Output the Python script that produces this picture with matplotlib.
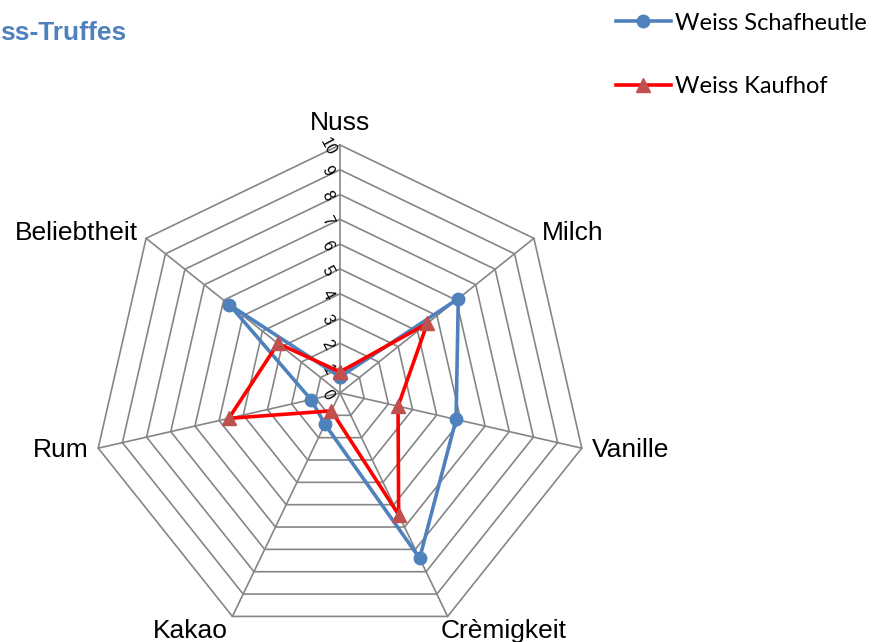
import matplotlib.pyplot as plt
import numpy as np

categories = ["Nuss", "Milch", "Vanille", "Crèmigkeit", "Kakao", "Rum", "Beliebtheit"]
schafheutle = [0.65, 6.1, 4.8, 7.4, 1.4, 1.2, 5.7]
kaufhof = [0.85, 4.5, 2.4, 5.45, 0.8, 4.6, 3.2]
levels = list(range(0, 11))

BLUE = "#4F81BD"
RED = "#FF0000"
RED_MARK = "#C0504D"
GRID = "#868686"

fig = plt.figure(figsize=(8.82, 6.42), dpi=100)
ax = fig.add_axes([0.1043, 0.0016, 0.5624, 0.7726], projection="polar")
ax.set_theta_zero_location("N")
ax.set_theta_direction(-1)
ax.set_ylim(0, 10)
ax.axis("off")

n = len(categories)
theta = np.linspace(0, 2 * np.pi, n, endpoint=False)
closed = np.append(theta, theta[0])

# heptagon grid and spokes
for lv in levels[1:]:
    ax.plot(closed, [lv] * (n + 1), color=GRID, lw=1.2, zorder=1, clip_on=False)
for t in theta:
    ax.plot([t, t], [0, 10], color=GRID, lw=1.2, zorder=1, clip_on=False)

# radial tick labels along the first spoke
for lv in levels:
    ax.annotate(str(lv), xy=(0, lv), xytext=(-9, -1), textcoords="offset points",
                ha="center", va="center", rotation=-62, fontsize=11.5,
                family="Liberation Sans", zorder=2)

ax.plot(closed, schafheutle + schafheutle[:1], color=BLUE, lw=2.6, marker="o",
        ms=9, mfc=BLUE, mec=BLUE, label="Weiss Schafheutle", zorder=3, clip_on=False)
ax.plot(closed, kaufhof + kaufhof[:1], color=RED, lw=2.6, marker="^",
        ms=9.5, mfc=RED_MARK, mec=RED_MARK, label="Weiss Kaufhof", zorder=4, clip_on=False)

# category labels: (offset in points, ha, va)
label_pos = [
    ((0, 7), "center", "bottom"),
    ((6, 4), "left", "center"),
    ((7, -1), "left", "center"),
    ((-5, -2), "left", "top"),
    ((-3, -2), "right", "top"),
    ((-7, -1), "right", "center"),
    ((-6, 4), "right", "center"),
]
for t, name, (off, ha, va) in zip(theta, categories, label_pos):
    ax.annotate(name, xy=(t, 10), xytext=off, textcoords="offset points",
                ha=ha, va=va, fontsize=19, family="Liberation Sans")

fig.text(0.0, 0.949, "ss-Truffes", fontsize=19, fontweight="bold", color=BLUE,
         family="Liberation Sans", ha="left", va="center")

leg = fig.legend(loc="upper left", bbox_to_anchor=(0.688, 0.995), frameon=False,
                 prop={"family": "Lato", "size": 17}, labelspacing=1.8,
                 handlelength=2.3, handletextpad=0.2, borderaxespad=0)

fig.savefig("out.png", dpi=100)
